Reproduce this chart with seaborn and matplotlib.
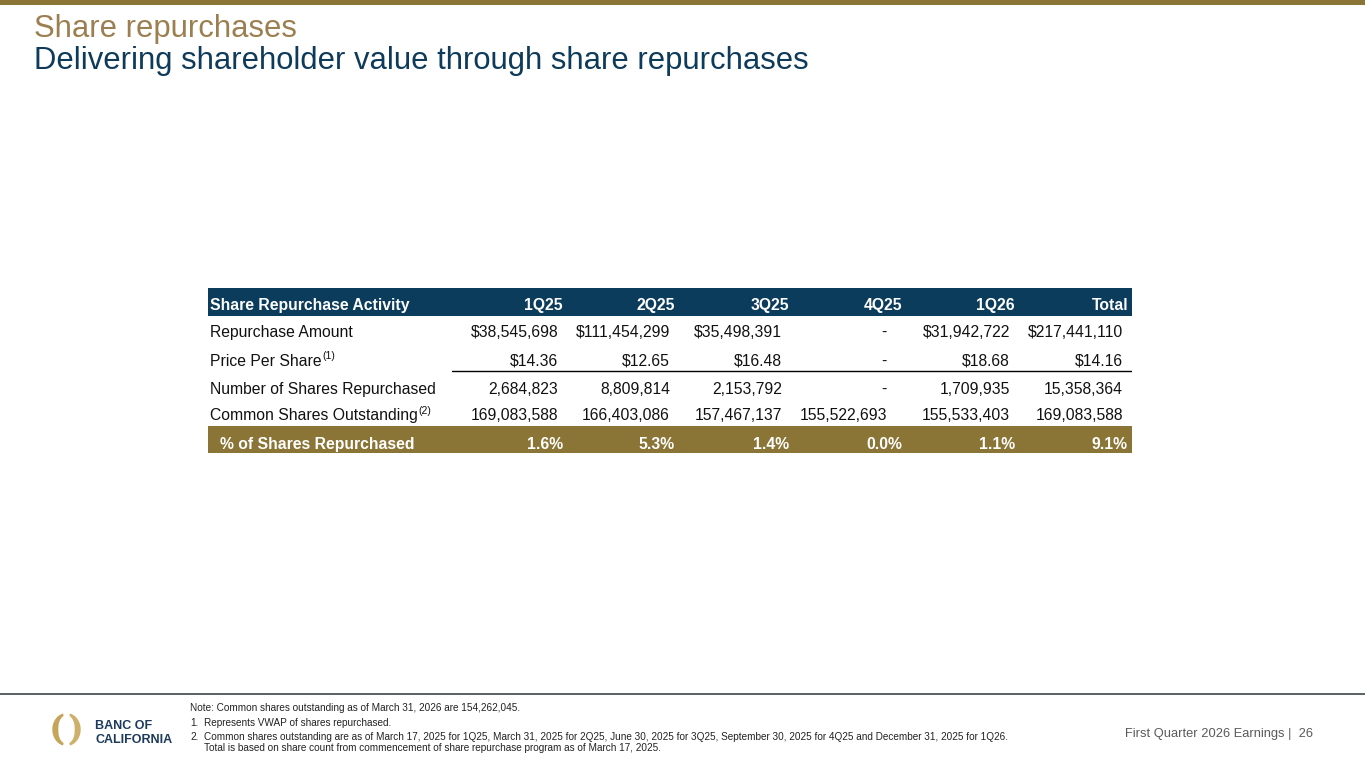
import matplotlib
matplotlib.use("Agg")
import matplotlib.pyplot as plt
from matplotlib.colors import ListedColormap
from matplotlib.patches import Rectangle, Polygon
from matplotlib.transforms import Affine2D
import numpy as np
import seaborn as sns

# ---------------- data ----------------
title = "Share repurchases"
subtitle = "Delivering shareholder value through share repurchases"
header_label = "Share Repurchase Activity"
quarters = ["1Q25", "2Q25", "3Q25", "4Q25", "1Q26", "Total"]
row_labels = ["Repurchase Amount", "Price Per Share", "Number of Shares Repurchased",
              "Common Shares Outstanding"]
row_notes = [None, "(1)", None, "(2)"]
repurchase_amount = [38545698, 111454299, 35498391, None, 31942722, 217441110]
price_per_share = [14.36, 12.65, 16.48, None, 18.68, 14.16]
shares_repurchased = [2684823, 8809814, 2153792, None, 1709935, 15358364]
shares_outstanding = [169083588, 166403086, 157467137, 155522693, 155533403, 169083588]
pct_label = "% of Shares Repurchased"
pct_repurchased = [1.6, 5.3, 1.4, 0.0, 1.1, 9.1]
note_lines = [
    "Note: Common shares outstanding as of March 31, 2026 are 154,262,045.",
]
footnotes = [
    ("1.", "Represents VWAP of shares repurchased."),
    ("2.", "Common shares outstanding are as of March 17, 2025 for 1Q25, March 31, 2025 for 2Q25, "
           "June 30, 2025 for 3Q25, September 30, 2025 for 4Q25 and December 31, 2025 for 1Q26."),
    ("", "Total is based on share count from commencement of share repurchase program as of March 17, 2025."),
]
footer_right = "First Quarter 2026 Earnings |  26"
logo_lines = ["BANC OF", "CALIFORNIA"]

# ---------------- style ----------------
sns.set_theme(style="white")
plt.rcParams["font.family"] = ["Liberation Sans", "DejaVu Sans"]

NAVY = "#0c3c5c"
GOLD = "#8b7536"
TAN = "#9c7f50"
SUB = "#0e3b5a"

W, H = 1365, 768
fig = plt.figure(figsize=(W / 100, H / 100), dpi=100)
fig.patch.set_facecolor("white")

# background axes in pixel units
bg = fig.add_axes([0, 0, 1, 1])
bg.set_xlim(0, W)
bg.set_ylim(H, 0)
bg.axis("off")

bg.add_patch(Rectangle((0, 0), W, 4.5, color=GOLD, lw=0))
bg.text(34, 37.5, title, fontsize=22.3, color=TAN, va="baseline", ha="left")
bg.text(34, 69, subtitle, fontsize=22.3, color=SUB, va="baseline", ha="left")

# bottom rule
bg.plot([0, W], [693.5, 693.5], color="#4a555b", lw=1.3)

# footnotes
fn_size = 7.17
bg.text(190.5, 711, note_lines[0], fontsize=fn_size, color="#222222", va="baseline")
fy = [725.5, 740, 751]
for (num, txt), y in zip(footnotes, fy):
    if num:
        bg.text(190.5, y, num, fontsize=fn_size, color="#222222", va="baseline")
    bg.text(204.5, y, txt, fontsize=fn_size, color="#222222", va="baseline")

bg.text(1313, 737, footer_right, fontsize=9.3, color="#5a5a5a", va="baseline", ha="right")

# logo: two tapered gold crescents
cx, cy = 66.5, 729.5
R = 16.5
logo_tf = Affine2D().scale(0.86, 1.0).translate(cx, cy) + bg.transData
for centre_deg, col in [(180, "#c4a559"), (0, "#cdb06a")]:
    th = np.radians(np.linspace(centre_deg - 76, centre_deg + 76, 80))
    rel = th - np.radians(centre_deg)
    wid = 2.0 + 5.0 * np.cos(rel) ** 1.5
    outer = np.column_stack([R * np.cos(th), R * np.sin(th)])
    inner = np.column_stack([(R - wid) * np.cos(th), (R - wid) * np.sin(th)])[::-1]
    poly = Polygon(np.vstack([outer, inner]), closed=True, color=col, lw=0)
    poly.set_transform(logo_tf)
    bg.add_patch(poly)
bg.text(95, 729.3, logo_lines[0], fontsize=9.0, fontweight="bold", color="#1d3a5c", va="baseline")
bg.text(95, 742.7, logo_lines[1], fontsize=9.0, fontweight="bold", color="#1d3a5c", va="baseline")

# ---------------- table via seaborn heatmap ----------------
tx0, tx1, ty0, ty1 = 208, 1132, 288, 453
tab = fig.add_axes([tx0 / W, 1 - ty1 / H, (tx1 - tx0) / W, (ty1 - ty0) / H])
band_kind = np.array([[0], [1], [1], [1], [1], [2]])
sns.heatmap(band_kind, ax=tab, cmap=ListedColormap([NAVY, "white", GOLD]),
            vmin=-0.5, vmax=2.5, cbar=False, xticklabels=False, yticklabels=False,
            linewidths=0)
tab.set_xlim(0, 1)
tab.set_ylim(6, 0)
tab.axis("off")


def fx(px):
    return (px - tx0) / (tx1 - tx0)


head_right = [563, 675, 789, 902, 1015, 1128]
data_right = [558, 670, 782, 887, 1010, 1123]
base = [0.80, 0.78, 0.82, 0.84, 0.80, 0.84]
fs = 11.3

# header
tab.text(fx(210), 0 + base[0], header_label, color="white", fontweight="bold",
         fontsize=fs, va="baseline", ha="left")
for q, xr in zip(quarters, head_right):
    tab.text(fx(xr), 0 + base[0], q, color="white", fontweight="bold",
             fontsize=fs, va="baseline", ha="right")


def fmt_money(v):
    return "-" if v is None else f"${v:,.0f}"


def fmt_price(v):
    return "-" if v is None else f"${v:,.2f}"


def fmt_int(v):
    return "-" if v is None else f"{v:,.0f}"


rows = [
    [fmt_money(v) for v in repurchase_amount],
    [fmt_price(v) for v in price_per_share],
    [fmt_int(v) for v in shares_repurchased],
    [fmt_int(v) for v in shares_outstanding],
]
for i, (lab, note, vals) in enumerate(zip(row_labels, row_notes, rows)):
    r = i + 1
    t = tab.text(fx(210), r + base[r], lab, color="#111111", fontsize=fs,
                 va="baseline", ha="left")
    if note:
        tab.annotate(note, xy=(1, 1), xycoords=t, xytext=(0.5, 1.5),
                     textcoords="offset points", fontsize=7.6, color="#111111",
                     ha="left", va="top")
    for v, xr in zip(vals, data_right):
        tab.text(fx(xr), r + base[r], v, color="#111111", fontsize=fs,
                 va="baseline", ha="right")

# rule under price row
tab.plot([fx(452), 1.0], [3, 3], color="black", lw=1.0)

# footer (gold band)
tab.text(fx(220), 5 + base[5], pct_label, color="white", fontweight="bold",
         fontsize=fs, va="baseline", ha="left")
for v, xr in zip(pct_repurchased, head_right):
    tab.text(fx(xr), 5 + base[5], f"{v:.1f}%", color="white", fontweight="bold",
             fontsize=fs, va="baseline", ha="right")

fig.savefig("out.png", dpi=100, facecolor="white")
